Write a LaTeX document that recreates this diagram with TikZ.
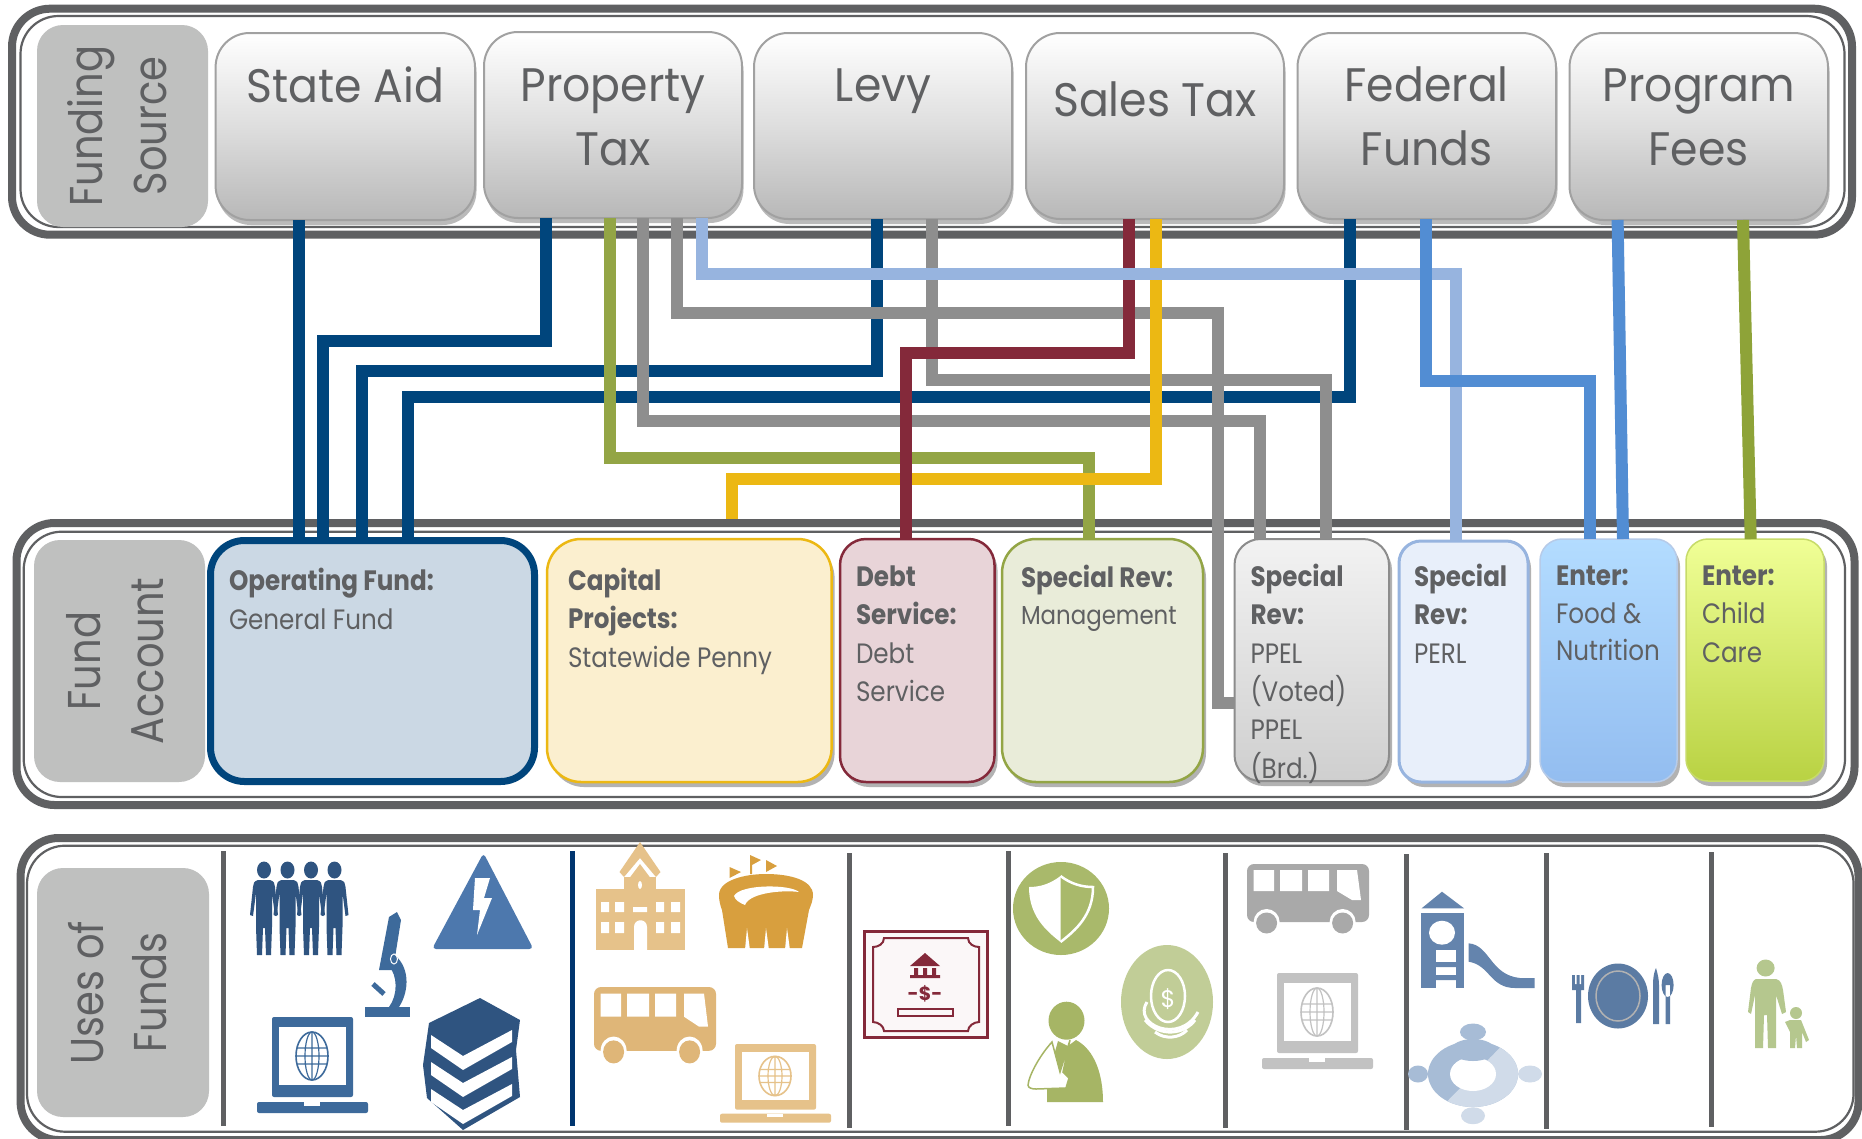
\documentclass[tikz,border=0pt]{standalone}
\usepackage{fontspec}
\usetikzlibrary{shadows,calc}
\newfontfamily\tw[FakeStretch=0.88]{Poppins}
\newfontfamily\twb[FakeStretch=0.94]{Poppins}
\newfontfamily\cg{Poppins}
\newfontfamily\cgl[FakeStretch=0.87]{Poppins}
\definecolor{txt}{HTML}{5F6062}
\definecolor{lab}{HTML}{BFC0BF}
\definecolor{navy}{HTML}{00457C}
\definecolor{grayl}{HTML}{8E8E8E}
\definecolor{olive}{HTML}{93A545}
\definecolor{olive2}{HTML}{8EA338}
\definecolor{yell}{HTML}{ECB813}
\definecolor{maro}{HTML}{84293A}
\definecolor{ltb}{HTML}{97B4DF}
\definecolor{blu}{HTML}{528DD3}
\definecolor{ora1}{HTML}{E6C28A}
\definecolor{ora2}{HTML}{D89F3E}
\definecolor{ora3}{HTML}{DFB678}
\definecolor{gry1}{HTML}{A9A9A9}
\definecolor{gry2}{HTML}{C2C2C2}
\definecolor{blu1}{HTML}{2F5480}
\definecolor{blu2}{HTML}{4D78AD}
\definecolor{blu3}{HTML}{3D6A9B}
\definecolor{grn1}{HTML}{A9B96B}
\definecolor{grn2}{HTML}{C1CD97}
\definecolor{grn3}{HTML}{A6B565}
\definecolor{grn4}{HTML}{B5C78E}
\definecolor{blu4}{HTML}{6484AD}
\definecolor{blu5}{HTML}{A7BCD6}
\definecolor{blu6}{HTML}{D0DBE9}
\definecolor{blu7}{HTML}{5B7BA3}
\definecolor{opfill}{HTML}{CBD8E4}
\definecolor{capfill}{HTML}{FBEFCF}
\definecolor{debtfill}{HTML}{E8D4D8}
\definecolor{mgmtfill}{HTML}{E9ECD9}
\definecolor{ppa}{HTML}{F2F2F2}
\definecolor{ppb}{HTML}{CFCFCF}
\definecolor{perlfill}{HTML}{E8EFFA}
\definecolor{fooda}{HTML}{B3DCFF}
\definecolor{foodb}{HTML}{93BDF0}
\definecolor{childa}{HTML}{F0FF96}
\definecolor{childb}{HTML}{B9D243}
\definecolor{divnavy}{HTML}{00356F}
\definecolor{certfill}{HTML}{FBF7F8}
\tikzset{
  frame/.style={draw=txt,inner sep=0pt,outer sep=0pt,rounded corners=38pt},
  thickframe/.style={frame,line width=8pt},
  thinframe/.style={frame,line width=2.2pt},
  box/.style={inner sep=0pt,outer sep=0pt,rounded corners=34pt,text=txt},
  srcbox/.style={box,draw=black!37,line width=2pt,top color=white,bottom color=black!28,middle color=black!13,
     general shadow={fill=black!27,shadow xshift=1.5pt,shadow yshift=-5pt},font=\twb\fontsize{47}{64}\selectfont},
  fundtext/.style={font=\tw\fontsize{28}{38}\selectfont},
  sh/.style={general shadow={fill=black!30,shadow xshift=3pt,shadow yshift=-5pt}},
  labbox/.style={inner sep=0pt,outer sep=0pt,fill=lab,rounded corners=26pt,rotate=90,text=txt,font=\cgl\fontsize{46}{67}\selectfont},
  conn/.style={line width=12pt,line cap=butt,line join=miter},
  divider/.style={line width=5pt,draw=txt},
}
% name, style, x1, y1, x2, y2, first baseline, line skip, content
\newcommand\BX[9]{%
  \pgfmathsetmacro\bw{#5-#3}\pgfmathsetmacro\bh{#6-#4}\pgfmathsetmacro\bd{#7-#4-#8}%
  \node[#2,minimum width=\bw pt,minimum height=\bh pt] (#1) at ({(#3+#5)/2},{(#4+#6)/2})
    {\vbox to \bh pt{\hsize=\bw pt \parindent=0pt \parskip=0pt \lineskiplimit=-200pt \vskip\bd pt \prevdepth=0pt \baselineskip=#8pt #9\par\vss}};}
% rotated label: name, x1,y1,x2,y2, first baseline x, skip, content
\newcommand\LB[8]{%
  \pgfmathsetmacro\bw{#4-#2}\pgfmathsetmacro\bh{#5-#3}\pgfmathsetmacro\bd{#6-#2-#7}%
  \node[labbox,minimum width=\bh pt,minimum height=\bw pt] (#1) at ({(#2+#4)/2},{(#3+#5)/2})
    {\vbox to \bw pt{\hsize=\bh pt \parindent=0pt \parskip=0pt \lineskiplimit=-200pt \vskip\bd pt \prevdepth=0pt \baselineskip=#7pt \centering #8\par\vss}};}
\newcommand\FR[6]{% name x1 y1 x2 y2 style
  \pgfmathsetmacro\bw{#4-#2}\pgfmathsetmacro\bh{#5-#3}%
  \node[#6,minimum width=\bw pt,minimum height=\bh pt] (#1) at ({(#2+#4)/2},{(#3+#5)/2}) {};}
\newcommand\MAN[1]{\begin{scope}[shift={(#1,0)}]
  \fill[blu1] (0,870) ellipse[x radius=7,y radius=8.5];
  \fill[blu1] (-6,880)--(6,880)..controls (10,881) and (11,884)..(11,887)--(14,915)--(11,916)--(8,893)--(8,927)--(7,955)--(2,955)--(1,928)--(-1,928)--(-2,955)--(-7,955)--(-8,927)--(-8,893)--(-11,916)--(-14,915)--(-11,887)..controls (-11,884) and (-10,881)..(-6,880)--cycle;
\end{scope}}
\newcommand\LAPTOP[4][1]{\begin{scope}[shift={(#2,#3)},yscale=#1]
  \fill[#4,rounded corners=2pt] (0,0) rectangle (81,80);
  \fill[white] (7,10) rectangle (74,68);
  \draw[#4,line width=1.6pt] (40,39) ellipse[x radius=16,y radius=24];
  \draw[#4,line width=1.2pt] (40,39) ellipse[x radius=7,y radius=24] (40,15)--(40,63) (25,31)--(55,31) (24,39)--(56,39) (25,47)--(55,47);
  \fill[#4,rounded corners=2pt] (-15,85) rectangle (96,96);
  \fill[white] (32,85) rectangle (48,89);
\end{scope}}
\newcommand\BUS[4][1]{\begin{scope}[shift={(#2,#3)},yscale=#1]
  \fill[#4,rounded corners=7pt] (0,0) rectangle (122,58);
  \fill[white] (6.5,6) rectangle (27,27) (33,6) rectangle (55,27) (61,6) rectangle (82,27);
  \fill[white] (90,6)--(110,6)--(114,36)--(105,36)--(90,27)--cycle;
  \fill[white] (19.6,58) circle[radius=13] (95.6,58) circle[radius=13];
  \fill[#4] (19.6,59) circle[radius=10.5] (95.6,59) circle[radius=10.5];
\end{scope}}
\begin{document}
\begin{tikzpicture}[x=1pt,y=-1pt]
\path[use as bounding box,clip] (0,0) rectangle (1862,1138);
\fill[white] (0,0) rectangle (1862,1138);
% frames
\FR{f1a}{12}{8.7}{1852}{234.7}{thickframe}
\FR{f1b}{20.5}{16}{1844.5}{227}{thinframe}
\FR{f2a}{16.5}{523}{1854.5}{805}{thickframe}
\FR{f2b}{23.7}{531.7}{1845}{797}{thinframe}
\FR{f3a}{20.6}{838}{1858.5}{1140}{thickframe}
\FR{f3b}{27}{845.7}{1853.5}{1131.7}{thinframe}
% labels
\LB{flab}{37}{25}{208}{227}{102}{64}{Funding\par Source}
\LB{alab}{34}{540}{205}{782}{100}{63}{Fund\par Account}
\LB{ulab}{37}{868}{209}{1117}{103}{63}{Uses of\par Funds}
% source boxes
\BX{state}{srcbox}{215.6}{33}{475}{220}{102.5}{64}{\centering State Aid}
\BX{prop}{srcbox}{484}{32}{742}{218}{101}{64}{\centering Property\par Tax}
\BX{levy}{srcbox}{754}{33}{1012}{219}{101}{64}{\centering Levy}
\BX{sales}{srcbox}{1026}{33}{1284}{219}{116.5}{64}{\centering Sales Tax}
\BX{fed}{srcbox}{1297.5}{33}{1556}{219}{101}{64}{\centering Federal\par Funds}
\BX{prog}{srcbox}{1569.5}{33}{1828}{220}{101}{64}{\centering Program\par Fees}
% fund boxes
\BX{op}{box,fundtext,draw=navy,line width=7pt,fill=opfill}{210.5}{540.5}{534.5}{781.5}{590}{39}{\raggedright\leftskip=18.5pt {\bfseries Operating Fund:}\par General Fund}
\BX{cap}{box,fundtext,sh,draw=yell,line width=2.5pt,fill=capfill}{547}{539}{831.6}{782}{590}{38.5}{\raggedright\leftskip=21pt {\bfseries Capital}\par {\bfseries Projects:}\par Statewide Penny}
\BX{debt}{box,fundtext,sh,rounded corners=26pt,draw=maro,line width=2.5pt,fill=debtfill}{840}{539}{994.5}{782}{586.5}{38.3}{\raggedright\leftskip=16pt {\bfseries Debt}\par {\bfseries Service:}\par Debt\par Service}
\BX{mgmt}{box,fundtext,sh,draw=olive,line width=2.5pt,fill=mgmtfill}{1002}{539}{1203}{782}{587}{37}{\raggedright\leftskip=19pt {\bfseries Special Rev:}\par {\fontsize{26}{37}\selectfont Management}}
\BX{ppel}{box,fundtext,sh,rounded corners=26pt,draw=black!45,line width=2pt,top color=ppa,bottom color=ppb}{1234.5}{539}{1389}{781}{586.5}{38.3}{\raggedright\leftskip=16pt {\bfseries Special}\par {\bfseries Rev:}\par PPEL\par (Voted)\par PPEL\par (Brd.)}
\BX{perl}{box,fundtext,sh,rounded corners=22pt,draw=ltb,line width=3pt,fill=perlfill}{1399}{541}{1528}{782}{586.5}{38.3}{\raggedright\leftskip=15pt {\bfseries Special}\par {\bfseries Rev:}\par PERL}
\BX{food}{box,fundtext,sh,rounded corners=22pt,draw=ltb!70,line width=1.5pt,top color=fooda,bottom color=foodb}{1540}{539}{1677}{782}{585.5}{37.7}{\raggedright\leftskip=16pt {\bfseries Enter:}\par Food \&\par Nutrition}
\BX{child}{box,fundtext,sh,rounded corners=22pt,draw=childb!80,line width=1.5pt,top color=childa,bottom color=childb}{1686}{539}{1824}{781}{585.5}{38.3}{\raggedright\leftskip=16pt {\bfseries Enter:}\par Child\par Care}
% connectors
\begin{scope}[conn]
\draw[navy] (299,0 |- state.south) -- (299,0 |- op.north);
\draw[navy] (546,0 |- prop.south) |- (323,341) -- (323,0 |- op.north);
\draw[navy] (876.5,0 |- levy.south) |- (361.6,371) -- (361.6,0 |- op.north);
\draw[navy] (1350,0 |- fed.south) |- (407.5,396.7) -- (407.5,0 |- op.north);
\draw[olive] (610,0 |- prop.south) |- (1089,458) -- (1089,0 |- mgmt.north);
\draw[grayl] (643,0 |- prop.south) |- (1260,421) -- (1260,0 |- ppel.north);
\draw[grayl] (677,0 |- prop.south) |- (1218,313) |- (ppel.west |- 0,703);
\draw[grayl] (932,0 |- levy.south) |- (1326,379.7) -- (1326,0 |- ppel.north);
\coordinate (capend) at (731.6,519);
\draw[yell] (1155.5,0 |- sales.south) |- (731.6,479) -- (capend);
\draw[maro] (1129,0 |- sales.south) |- (906,353) -- (906,0 |- debt.north);
\draw[ltb] (701.5,0 |- prop.south) |- (1455.5,273.5) -- (1455.5,0 |- perl.north);
\draw[blu] (1426,0 |- fed.south) |- (1590,381) -- (1590,0 |- food.north);
\draw[blu] (1617.6,0 |- prog.south) -- (1623,0 |- food.north);
\draw[olive2] (1743,0 |- prog.south) -- (1750.7,0 |- child.north);
\end{scope}
% dividers
\draw[divider] (223,851)--(223,1126);
\draw[divider,draw=divnavy] (572,851)--(572,1126);
\draw[divider] (849,853)--(849,1128);
\draw[divider] (1008,851)--(1008,1126);
\draw[divider] (1225,853)--(1225,1128);
\draw[divider] (1406,854)--(1406,1130);
\draw[divider] (1546,853)--(1546,1129);
\draw[divider] (1711.5,852)--(1711.5,1127);
% people
\MAN{264}\MAN{287.5}\MAN{311}\MAN{334.5}
% warning triangle
\fill[blu2,rounded corners=4pt] (483.5,853)--(533.4,949)--(432,949)--cycle;
\fill[white] (475,878)--(490,878)--(484,898)--(492,898)--(477,935)--(480,910)--(473,910)--cycle;
% microscope
\fill[blu3] (365,1007) rectangle (410,1017);
\fill[blu3] (397,912)--(401,920)--(393,970)--(379,970)--(389,917)--cycle;
\fill[blu3] (392,953)..controls (410,965) and (410,990)..(399,1007)--(389,1007)..controls (398,995) and (398,975)..(388,965)--cycle;
\draw[blu3,line width=5pt] (373,984)--(384,994);
\draw[white,line width=1pt] (394,959) ellipse[x radius=3.5,y radius=5];
% blue laptop
\LAPTOP{272}{1017}{blu3}
% books
\fill[blu1] (480,998)--(520,1020)--(516,1050)--(520,1097)--(463,1130)--(427,1098)--(423,1065)--(429,1023)--cycle;
\foreach \k in {0,27,54}{\fill[white] (431,1035+\k)--(463,1056+\k)--(512,1030+\k)--(512,1042+\k)--(463,1070+\k)--(431,1048+\k)--cycle;}
% school
\fill[ora1] (596,889) rectangle (685,950);
\fill[ora1] (624,877) rectangle (656,889);
\fill[ora1] (640,842)--(660.5,872)--(656,877)--(640,858)--(624,877)--(619.5,872)--cycle;
\fill[ora1] (640,864)--(652,880)--(628,880)--cycle;
\fill[white] (601,902) rectangle (609,912) (615,902) rectangle (624,912) (656,902) rectangle (664,912) (671,902) rectangle (680,912)
 (601,922) rectangle (609,933) (615,922) rectangle (624,933) (656,922) rectangle (664,933) (671,922) rectangle (680,933) (633,907) rectangle (647,912);
\fill[white] (634,950)--(634,927)..controls (634,918) and (647,918)..(647,927)--(647,950)--cycle;
\fill[white] (640,885) ellipse[x radius=2,y radius=4];
% stadium
\fill[ora2] (719,895)..controls (719,880) and (745,874)..(766,874)..controls (790,874) and (813,880)..(813,895)..controls (813,900) and (811,905)..(809,910)--(802,948)--(728,948)--(722,910)..controls (720,905) and (719,900)..(719,895)--cycle;
\fill[white] (734,896)..controls (740,884) and (790,884)..(799,892)..controls (785,890) and (750,892)..(745,905)..controls (740,903) and (735,900)..(734,896)--cycle;
\fill[white] (745,950)--(747,928)--(750,950)--cycle (764,950)--(766,928)--(769,950)--cycle (785,950)--(787,928)--(790,950)--cycle;
\fill[ora2] (729.5,867)--(741,872)--(729.5,878)--cycle (750,855)--(761,860)--(752,865)--(752,874)--(750,874)--cycle (766,860)--(777,866)--(766,872)--cycle;
% orange bus and laptop
\BUS[1.1]{594}{987}{ora3}
\LAPTOP[0.82]{735}{1044}{ora1}
% certificate
\fill[certfill] (863,930) rectangle (989,1039);
\draw[maro,line width=3pt] (864.5,931.5) rectangle (987.5,1037.5);
\draw[maro,line width=2pt] (884,938)--(968,938)..controls (968,944) and (974,947)..(979,947)--(979,1022)..controls (974,1022) and (968,1026)..(968,1031)--(884,1031)..controls (884,1026) and (878,1022)..(873,1022)--(873,947)..controls (878,947) and (884,944)..(884,938)--cycle;
\fill[maro] (910,966)--(925,953)--(940,966)--cycle (914,968) rectangle (918,975) (923,968) rectangle (927,975) (932,968) rectangle (936,975) (910,975) rectangle (940,978);
\node[text=maro,inner sep=0pt,font=\cg\bfseries\fontsize{19}{20}\selectfont] (certsign) at (925,994) {-\$-};
\draw[maro,line width=2.5pt] (898,1009) rectangle (953,1016);
% shield
\fill[grn1] (1061,908.5) ellipse[x radius=48,y radius=46.5];
\fill[white] (1060.5,876)..controls (1050,884) and (1040,887)..(1029,887)..controls (1029,915) and (1045,930)..(1060.5,942)--cycle;
\draw[white,line width=2.5pt] (1060.5,876)..controls (1071,884) and (1082,887)..(1093,887)..controls (1093,915) and (1076,930)..(1060.5,942);
% egg
\fill[grn2] (1167,1002) ellipse[x radius=46,y radius=57];
\draw[white,line width=2.5pt] (1168,996) ellipse[x radius=17,y radius=26];
\node[text=white,inner sep=0pt,font=\cg\fontsize{24}{24}\selectfont] (eggsign) at (1168,999) {\$};
\draw[white,line width=3pt] (1147,1002)..controls (1132,1025) and (1180,1045)..(1198,1012);
\draw[white,line width=3pt] (1145,1020)..controls (1160,1038) and (1185,1034)..(1195,1020);
\draw[white,line width=3pt] (1155,1032)..controls (1165,1040) and (1180,1038)..(1187,1030);
% person with sling
\fill[grn3] (1066.5,1020.7) ellipse[x radius=18,y radius=19];
\fill[grn3] (1058,1041)--(1068,1046)--(1076,1040)..controls (1095,1050) and (1103,1075)..(1103,1102)--(1047,1102)--(1047,1080)--cycle;
\filldraw[draw=grn3,fill=white,line width=1.5pt] (1052,1042)..controls (1040,1055) and (1029,1075)..(1028,1085)..controls (1028,1088) and (1032,1089)..(1036,1089)--(1066,1088)--(1069,1078)--(1063,1072)--(1070,1040)--(1060,1072)--cycle;
% gray bus and laptop
\BUS{1247}{864}{gry1}
\LAPTOP{1277}{973}{gry2}
% playground
\fill[blu4] (1421.6,908.3)--(1442,891.7)--(1464,908.3)--cycle;
\fill[blu4] (1420.5,913) rectangle (1464.4,988);
\fill[white] (1442,932.7) ellipse[x radius=13,y radius=12];
\fill[white] (1431,950) rectangle (1456,988);
\fill[blu4] (1431,962) rectangle (1456,967) (1431,975) rectangle (1456,980);
\fill[blu4] (1431,950) rectangle (1436,988);
\fill[blu4] (1468.6,943.3)..controls (1490,945) and (1490,975)..(1520,978)--(1534.5,978)--(1534.5,988)--(1515,988)..controls (1490,988) and (1490,965)..(1468.6,961.7)--cycle;
% team
\fill[blu5] (1473,1074) ellipse[x radius=45,y radius=33];
\begin{scope}
\clip (1528,1019)--(1528,1129)--(1420,1129)--cycle;
\fill[blu6] (1473,1074) ellipse[x radius=45,y radius=33];
\end{scope}
\fill[white] (1473,1074) ellipse[x radius=23,y radius=17];
\fill[blu5] (1473,1050) ellipse[x radius=22,y radius=11];
\fill[blu5] (1473,1032) ellipse[x radius=13,y radius=8.5];
\fill[blu5] (1418,1074) ellipse[x radius=10,y radius=8.5];
\fill[blu6] (1530,1074) ellipse[x radius=12,y radius=8.5];
\fill[blu6] (1473,1115.7) ellipse[x radius=12,y radius=8.5];
% plate
\fill[blu7] (1618,996) ellipse[x radius=30,y radius=32.5];
\draw[black!30,line width=1.5pt] (1618,996) ellipse[x radius=22,y radius=25];
\fill[blu7] (1572,975) rectangle (1584,990) (1576,985) rectangle (1581,1023);
\fill[white] (1575,975) rectangle (1576.5,984) (1579.5,975) rectangle (1581,984);
\fill[blu7] (1653,1024)--(1653,985)..controls (1653,975) and (1655,970)..(1656,968)..controls (1658,975) and (1659,980)..(1659,985)--(1659,1024)--cycle;
\fill[blu7] (1667.6,985) ellipse[x radius=6,y radius=12] (1665.5,985) rectangle (1670,1024);
% parent and child
\fill[grn4] (1765.6,968) ellipse[x radius=9,y radius=8.5];
\fill[grn4] (1756,979)--(1776,979)..controls (1781,980) and (1782,985)..(1783,990)--(1786,1012)--(1782,1014)--(1776,995)--(1776,1048)--(1768,1048)--(1767,1015)--(1764,1015)--(1763,1048)--(1755,1048)--(1755,995)--(1751,1014)--(1748,1012)--(1751,988)..controls (1752,983) and (1753,980)..(1756,979)--cycle;
\fill[grn4] (1796,1013) ellipse[x radius=6,y radius=6];
\fill[grn4] (1790,1020)--(1801,1020)--(1809,1040)--(1806,1042)--(1802,1032)--(1802,1048)--(1797,1048)--(1796,1035)--(1795,1048)--(1790,1048)--(1790,1032)--(1785,1022)--cycle;
\end{tikzpicture}
\end{document}
